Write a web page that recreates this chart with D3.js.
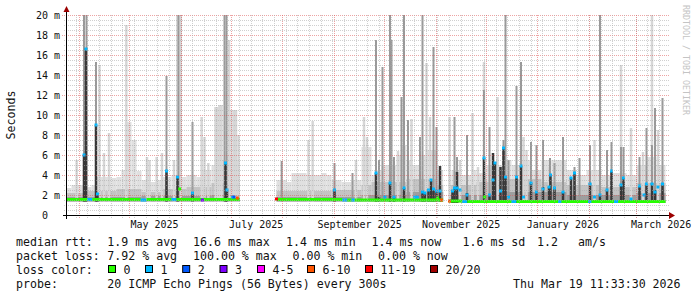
<!DOCTYPE html>
<html>
<head>
<meta charset="utf-8">
<script src="https://cdn.jsdelivr.net/npm/d3@7"></script>
<style>
body { margin: 0; background: #fff; }
svg text { font-family: "DejaVu Sans Mono", monospace; white-space: pre; }
</style>
</head>
<body>
<svg width="697" height="297"></svg>
<script>
// all positions along time are "days after 24 Mar 2025 11:33:30"
var lossColors = ['#26ff00', '#00b8ff', '#0059ff', '#7e00ff', '#ff00ff', '#ff5500', '#ff0000', '#a10000'];
var lossLabels = ['0', '1', '2', '3', '4-5', '6-10', '11-19', '20/20'];

// smoke floor (fastest ping), null = no data
var smokeMin = [[0, 1.35], [104, null], [126, 1.35], [226, null], [229.5, 1.2], [359.4, null]];

// light haze top
var hazeTop = [[0, 2.7], [3, 3.0], [12, 2.8], [15, 3.0], [18, 3.8], [27, 3.7], [30, 3.8], [33, 4.5], [35, 9.3],
    [39, 7.5], [42, 4.4], [45, 3.5], [48, 3.3], [54, 3.5], [57, 3.8], [63, 4.0], [69, 3.8], [72, 4.0], [78, 3.8],
    [81, 4.5], [87, 5.0], [90, 6.0], [93, 5.5], [96, 6.0], [99, 6.0], [102, 5.5], [104, null],
    [126, 3.5], [132, 3.3], [135, 4.2], [144, 4.0], [153, 4.2], [156, 4.0], [159, 3.5], [165, 3.3], [171, 3.5],
    [177, 6.8], [183, 4.0], [186, 4.5], [189, 5.0], [198, 6.0], [201, 7.0], [204, 5.5], [207, 5.0], [213, 6.0],
    [216, 6.5], [222, 4.5], [226, null],
    [229.5, 4.0], [231, 4.5], [237, 4.0], [243, 4.5], [246, 4.2], [252, 5.0], [264, 5.5], [267, 5.0], [273, 5.5],
    [279, 4.5], [285, 5.5], [291, 5.5], [300, 4.5], [306, 4.0], [312, 4.5], [321, 4.0], [327, 4.2], [336, 4.0],
    [342, 5.0], [348, 5.8], [354, 5.0], [359.4, null]];

// middle grey band top
var midTop = [[0, 2.2], [12, 2.4], [30, 2.6], [45, 2.3], [57, 2.6], [72, 2.8], [87, 3.2], [104, null],
    [126, 2.4], [159, 2.5], [177, 3.0], [183, 3.3], [204, 3.6], [222, 3.0], [226, null],
    [229.5, 3.0], [246, 3.3], [264, 3.6], [285, 3.3], [300, 3.0], [321, 2.8], [342, 3.2], [359.4, null]];

// dark grey band just above the median
var nearTop = [[0, 1.8], [45, 1.9], [87, 2.0], [104, null], [126, 1.8], [177, 2.0], [204, 2.3], [226, null],
    [229.5, 2.0], [264, 2.3], [300, 2.0], [342, 2.2], [359.4, null]];

// thin smoke spikes [day, top ms]
var lightSpikes = [[6.1, 5.5], [19.8, 15.0], [22.5, 6.2], [25.5, 8.2], [35.9, 19.0], [48.3, 5.8], [49.8, 5.5],
    [54.1, 5.8], [57.3, 6.2], [64.5, 5.5], [66.5, 20], [68.5, 20], [81.1, 9.8], [82.8, 7.8], [85.1, 5.2],
    [89.4, 10.8], [90.6, 10.8], [91.8, 11.0], [93, 11.0], [97.5, 17.5], [99, 10.5], [100.5, 10.5], [101.7, 10.5],
    [103.2, 8.0],
    [145.2, 7.5], [147.7, 9.4], [173.7, 5.5], [178.5, 9.8], [180.3, 7.8], [198.9, 6.4], [207, 9.6], [216, 15.2],
    [218.1, 9.8],
    [229.8, 9.8], [236.1, 5.5], [243.6, 10.2], [246.9, 4.8], [250.5, 15.3], [258.6, 11.8], [274.2, 7.8], [276, 6.5],
    [289.5, 4.8], [316.8, 7.5], [332.7, 15.0], [338.7, 8.7], [345.9, 6.3], [351.3, 20], [354.9, 8.5]];

var mediumSpikes = [[10.5, 20], [12, 20], [17.7, 15.3], [60, 13.9], [67.2, 20], [75.6, 9.3], [94.8, 20], [96, 20],
    [129.1, 5.4], [160.8, 5.2], [171.6, 4.2], [185.7, 17.5], [187.5, 5.5], [189.6, 14.8], [194.1, 20], [195, 17.5],
    [196.5, 5.8], [201, 11.8], [202.5, 20], [204.9, 9.5], [212.1, 7.8], [213.6, 20], [220.2, 16.8], [222, 8.8],
    [232.8, 9.8], [234.3, 5.8], [240.3, 8.0], [250.5, 12.5], [253.8, 8.8], [262.2, 7.5], [263.4, 20], [265.2, 5.5],
    [270, 12.9], [272.7, 15.3], [278.7, 7.3], [282, 7.0], [285.9, 7.5], [290.1, 5.7], [292.8, 5.2], [297.9, 7.8],
    [304.8, 4.8], [307.8, 5.7], [314.1, 7.0], [320.1, 20], [324.3, 6.5], [327, 7.3], [332.7, 6.8], [334.2, 6.8],
    [343.8, 5.8], [348, 8.7], [351.3, 7.0], [353.1, 10.7], [357.6, 11.7]];

var darkSpikes = [[10.5, 6.0], [11.7, 16.7], [17.7, 9.0], [18.6, 2.1], [60, 4.4], [66.6, 3.8], [75.6, 2.2],
    [95.4, 5.2], [96.3, 2.5],
    [160.8, 2.5], [185.7, 4.2], [187.5, 1.8], [194.1, 3.2], [196.5, 1.8], [202.5, 2.7], [213.6, 2.3], [215.1, 2.2],
    [217.2, 2.5], [218.7, 3.5], [220.2, 2.6], [222, 2.4], [224.1, 4.9],
    [231.6, 2.4], [232.8, 2.7], [234.3, 4.3], [240.3, 2.2], [250.5, 5.7], [253.8, 2.0], [255.9, 6.2], [257.1, 5.3],
    [260.4, 4.8], [262.2, 6.7], [263.4, 3.8], [270, 3.8], [272.7, 4.9], [278.7, 3.2], [282, 2.3], [285.9, 2.8],
    [289.5, 2.8], [290.4, 4.1], [292.8, 2.7], [297.9, 2.3], [302.7, 3.7], [304.8, 4.3], [314.1, 3.2], [320.1, 2.0],
    [324.3, 2.5], [327, 4.3], [332.7, 3.0], [334.2, 3.8], [343.8, 3.0], [348, 3.2], [351.3, 3.2], [353.1, 2.5],
    [357.6, 3.2]];

// median line [day, ms, loss class]
var medianLine = [[0, 1.55, 0], [12.5, 1.55, 1], [15.5, 1.55, 0], [44.5, 1.5, 1], [48, 1.55, 0], [63, 1.55, 1],
    [66, 1.55, 0], [104, null, 0],
    [126, 1.55, 0], [165.5, 1.5, 1], [168.5, 1.5, 0], [171, 1.5, 1], [173, 1.5, 0], [226, null, 0],
    [229.5, 1.4, 0], [237.5, 1.35, 1], [240.5, 1.35, 0], [267, 1.35, 1], [270, 1.35, 0], [295, 1.35, 1],
    [297, 1.35, 0], [313, 1.35, 1], [315, 1.35, 0], [328.5, 1.35, 1], [331, 1.35, 0], [359.4, null, 0]];

// median points off the line [day, ms, loss class]
var medianDots = [[10.5, 6.0, 1], [11.7, 16.6, 1], [17.7, 9.0, 1], [18.6, 2.1, 1], [60, 4.4, 1], [66.6, 3.8, 1],
    [67.9, 2.6, 0], [75.6, 2.2, 1], [81.5, 1.5, 3], [95.4, 5.2, 1], [96.3, 2.5, 1], [99.5, 1.8, 1], [100.5, 1.8, 2],
    [102.5, 1.7, 5],
    [126, 1.6, 6], [160.8, 2.5, 1], [185.7, 4.2, 1], [191, 1.8, 1], [194.1, 3.2, 1], [196.5, 1.8, 1], [202.5, 2.7, 1],
    [209, 1.8, 1], [210.5, 1.8, 1], [213.6, 2.3, 1], [215.1, 2.2, 1], [217.2, 2.5, 1], [218.7, 3.5, 1],
    [220.2, 2.6, 1], [222, 2.4, 1], [222.6, 1.7, 0], [224.1, 2.4, 1], [225, 1.5, 5],
    [229.8, 1.4, 5], [231.6, 2.4, 1], [232.8, 2.7, 1], [234.3, 2.7, 1], [236.1, 2.5, 1], [240.3, 2.0, 1],
    [250.5, 5.7, 1], [250.9, 1.8, 0], [253.8, 2.0, 1], [255.9, 3.5, 1], [257.1, 5.2, 1], [260.4, 2.4, 1],
    [262.2, 6.7, 1], [263.4, 3.8, 1], [265.2, 1.8, 1], [270, 3.8, 1], [272.7, 4.9, 1], [274.2, 1.8, 1],
    [278.7, 3.2, 1], [282, 2.3, 1], [285.9, 2.6, 1], [289.5, 2.8, 1], [290.4, 4.0, 1], [292.8, 2.7, 1],
    [297.9, 2.3, 1], [302.7, 3.7, 1], [304.8, 4.2, 1], [314.1, 3.1, 1], [316.8, 1.8, 1], [320.1, 2.0, 1],
    [324.3, 2.5, 1], [327, 4.4, 1], [332.7, 3.0, 1], [334.2, 3.7, 1], [338.7, 1.6, 1], [343.8, 2.9, 1],
    [346.5, 2.0, 1], [348, 3.1, 1], [351.3, 3.1, 1], [353.1, 2.3, 1], [354.9, 2.8, 1], [357.6, 3.1, 1]];

var yTicks = [0, 2, 4, 6, 8, 10, 12, 14, 16, 18, 20];

var legendRows = [
    [['median rtt:', 16], ['1.9 ms avg', 107.3], ['16.6 ms max', 193], ['1.4 ms min', 286], ['1.4 ms now', 371.5],
     ['1.6 ms sd', 462.5], ['1.2', 537], ['am/s', 578]],
    [['packet loss:', 16], ['7.92 % avg', 107.3], ['100.00 % max', 193], ['0.00 % min', 292.5], ['0.00 % now', 378]],
    [['loss color:', 16]],
    [['probe:', 16], ['20 ICMP Echo Pings (56 Bytes) every 300s', 107.3], ['Thu Mar 19 11:33:30 2026', 513]]
];
var lossBoxX = [108.5, 145.5, 182.7, 220, 257.5, 307.5, 365.5, 430.5];

var start = new Date(2025, 2, 24, 11, 33, 30);
var end = new Date(2026, 2, 19, 11, 33, 30);

var svg = d3.select('svg');

var x = d3.scaleTime().domain([start, end]).range([66.5, 666.5]);
var y = d3.scaleLinear().domain([0, 20]).range([215, 15]);

function toDate(d) { return new Date(start.getTime() + d * 864e5); }
function xd(d) { return x(toDate(d)); }
function floorAt(d) {
    var f = 1.3;
    smokeMin.forEach(function(p) { if (p[0] <= d && p[1] != null) f = p[1]; });
    return f;
}

svg.append('rect').attr('width', 697).attr('height', 297).attr('fill', '#fff');

// smoke bands
function band(data, color) {
    svg.append('g').selectAll('rect')
        .data(d3.pairs(data).filter(function(p) { return p[0][1] != null; }))
        .enter()
        .append('rect')
        .attr('x', function(p) { return xd(p[0][0]); })
        .attr('width', function(p) { return xd(p[1][0]) - xd(p[0][0]); })
        .attr('y', function(p) { return y(p[0][1]); })
        .attr('height', function(p) { return y(floorAt(p[0][0])) - y(p[0][1]); })
        .attr('fill', color);
}
band(hazeTop, '#e0e0e0');
band(midTop, '#c4c4c4');
band(nearTop, '#9e9e9e');

function spikes(data, color, w) {
    svg.append('g').selectAll('rect')
        .data(data)
        .enter()
        .append('rect')
        .attr('x', function(d) { return xd(d[0]) - w / 2; })
        .attr('width', w)
        .attr('y', function(d) { return y(d[1]); })
        .attr('height', function(d) { return y(floorAt(d[0])) - y(d[1]); })
        .attr('fill', color);
}
spikes(lightSpikes, '#d6d6d6', 2.5);
spikes(mediumSpikes, '#999999', 2);
spikes(darkSpikes, '#383838', 2.5);

// median
svg.append('g').selectAll('rect')
    .data(d3.pairs(medianLine).filter(function(p) { return p[0][1] != null; }))
    .enter()
    .append('rect')
    .attr('x', function(p) { return xd(p[0][0]); })
    .attr('width', function(p) { return xd(p[1][0]) - xd(p[0][0]); })
    .attr('y', function(p) { return y(p[0][1]) - 1.5; })
    .attr('height', 3)
    .attr('fill', function(p) { return lossColors[p[0][2]]; });

svg.append('g').selectAll('rect')
    .data(medianDots)
    .enter()
    .append('rect')
    .attr('x', function(d) { return xd(d[0]) - 1.5; })
    .attr('width', 3)
    .attr('y', function(d) { return y(d[1]) - 1.5; })
    .attr('height', 3)
    .attr('fill', function(d) { return lossColors[d[2]]; });

// grid on top, dotted like rrdtool
var grid = svg.append('g').attr('stroke-dasharray', '1,1').attr('shape-rendering', 'crispEdges');
d3.range(1, 41).forEach(function(i) {
    var v = i * 0.5, major = v % 2 === 0;
    grid.append('line')
        .attr('x1', major ? 62 : 64).attr('x2', 669)
        .attr('y1', Math.round(y(v)) + 0.5).attr('y2', Math.round(y(v)) + 0.5)
        .attr('stroke', major ? 'rgba(222,90,90,0.55)' : 'rgba(170,170,170,0.55)');
});
d3.timeWeek.range(start, end).forEach(function(t) {
    grid.append('line')
        .attr('x1', Math.round(x(t)) + 0.5).attr('x2', Math.round(x(t)) + 0.5)
        .attr('y1', 15).attr('y2', 218)
        .attr('stroke', 'rgba(170,170,170,0.55)');
});
d3.timeMonth.range(start, end).forEach(function(t) {
    grid.append('line')
        .attr('x1', Math.round(x(t)) + 0.5).attr('x2', Math.round(x(t)) + 0.5)
        .attr('y1', 15).attr('y2', 219)
        .attr('stroke', 'rgba(222,90,90,0.55)');
});

// axes
svg.append('line').attr('x1', 63).attr('x2', 670).attr('y1', 215.5).attr('y2', 215.5)
    .attr('stroke', '#000').attr('shape-rendering', 'crispEdges');
svg.append('line').attr('x1', 66.5).attr('x2', 66.5).attr('y1', 219).attr('y2', 11)
    .attr('stroke', '#000').attr('shape-rendering', 'crispEdges');
svg.append('path').attr('d', 'M669,212L675,215.5L669,219Z').attr('fill', '#9b0000');
svg.append('path').attr('d', 'M63.5,12L66.5,6L69.5,12Z').attr('fill', '#9b0000');

var yAxis = svg.append('g')
    .attr('transform', 'translate(67,0)')
    .call(d3.axisLeft(y).tickValues(yTicks).tickSize(0).tickPadding(7)
        .tickFormat(function(v) { return v === 0 ? '0  ' : v + ' m'; }));
yAxis.select('.domain').remove();
yAxis.selectAll('text').attr('font-size', 10).attr('fill', '#111')
    .style('font-family', '"DejaVu Sans Mono", monospace');

var monthFmt = d3.timeFormat('%B %Y');
var labelMonths = d3.timeMonth.every(2).range(start, end);
var xAxis = svg.append('g')
    .attr('transform', 'translate(0,219)')
    .call(d3.axisBottom(x)
        .tickValues(labelMonths.map(function(m) { return d3.timeDay.offset(m, 15); }))
        .tickSize(0).tickPadding(2)
        .tickFormat(function(t) { return monthFmt(d3.timeMonth.floor(t)); }));
xAxis.select('.domain').remove();
xAxis.selectAll('text').attr('font-size', 10).attr('fill', '#111')
    .style('font-family', '"DejaVu Sans Mono", monospace');

svg.append('text')
    .attr('transform', 'translate(15,115) rotate(-90)')
    .attr('text-anchor', 'middle')
    .attr('font-size', 11.6)
    .attr('fill', '#111')
    .text('Seconds');

svg.append('text')
    .attr('transform', 'translate(683,5) rotate(90)')
    .attr('font-size', 8.3)
    .attr('fill', '#c4c4c4')
    .text('RRDTOOL / TOBI OETIKER');

// legend
legendRows.forEach(function(row, i) {
    row.forEach(function(item) {
        svg.append('text')
            .attr('x', item[1])
            .attr('y', 245.5 + i * 14)
            .attr('font-size', 11.6)
            .attr('fill', '#111')
            .text(item[0]);
    });
});
lossColors.forEach(function(c, i) {
    svg.append('rect')
        .attr('x', lossBoxX[i]).attr('y', 265.5)
        .attr('width', 7).attr('height', 7)
        .attr('fill', c).attr('stroke', '#000').attr('stroke-width', 1);
    svg.append('text')
        .attr('x', lossBoxX[i] + 15)
        .attr('y', 273.5)
        .attr('font-size', 11.6)
        .attr('fill', '#111')
        .text(lossLabels[i]);
});
</script>
</body>
</html>
